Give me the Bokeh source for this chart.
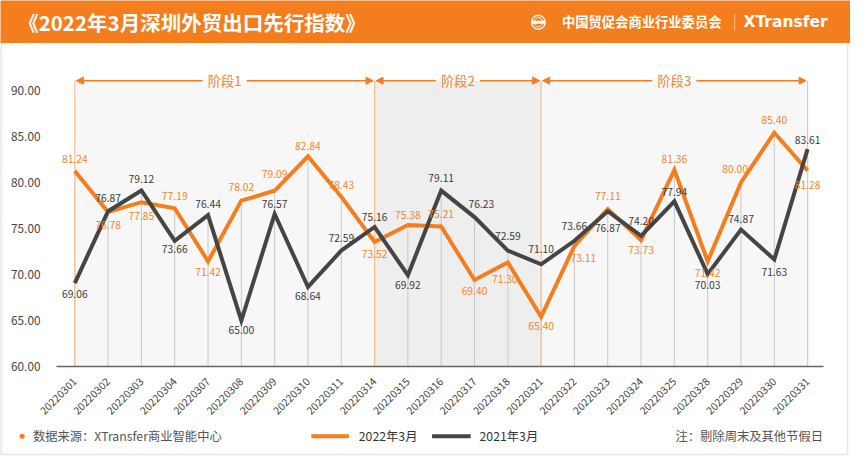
import math
from bokeh.plotting import figure
from bokeh.models import Range1d, FixedTicker, PrintfTickFormatter, Arrow, NormalHead
from bokeh.core.properties import value
from bokeh.embed import file_html
from bokeh.resources import INLINE

# ---------------- data ----------------
dates = ["20220301", "20220302", "20220303", "20220304", "20220307", "20220308",
         "20220309", "20220310", "20220311", "20220314", "20220315", "20220316",
         "20220317", "20220318", "20220321", "20220322", "20220323", "20220324",
         "20220325", "20220328", "20220329", "20220330", "20220331"]
index_2022 = [81.24, 76.78, 77.85, 77.19, 71.42, 78.02, 79.09, 82.84, 78.43, 73.52,
              75.38, 75.21, 69.40, 71.30, 65.40, 73.11, 77.11, 73.73, 81.36, 71.42,
              80.00, 85.40, 81.28]
index_2021 = [69.06, 76.87, 79.12, 73.66, 76.44, 65.00, 76.57, 68.64, 72.59, 75.16,
              69.92, 79.11, 76.23, 72.59, 71.10, 73.66, 76.87, 74.20, 77.94, 70.03,
              74.87, 71.63, 83.61]
series_names = ["2022年3月", "2021年3月"]
y_ticks = [60, 65, 70, 75, 80, 85, 90]
stage_names = ["阶段1", "阶段2", "阶段3"]
stage_edges = ["20220301", "20220314", "20220321", "20220331"]
title_text = "《2022年3月深圳外贸出口先行指数》"
org_text = "中国贸促会商业行业委员会"
brand_text = "XTransfer"
source_text = "数据来源：XTransfer商业智能中心"
note_text = "注：剔除周末及其他节假日"

# ---------------- styles / layout ----------------
ORANGE = "#F47D1E"
ORANGE_TXT = "#F0872C"
DARK = "#454545"
DARK_TXT = "#3C3C3C"
FONT = "Noto Sans CJK SC"
W, H = 850, 456
SX, SY = W / 866.0, H / 472.0          # design grid (866x472) -> canvas


def rx(v):
    return v * SX


def ry(v):
    return v * SY


FRAME_L, FRAME_R = round(rx(57)), round(rx(839))
FRAME_T, FRAME_B = round(ry(54)), round(ry(379))
X_FIRST, X_LAST = rx(75.7), rx(822.3)   # pixel centres of first / last category
Y90_PX = ry(93)
BRACKET_Y = 91.05
# label offsets (design pixels, + = down) for each point's value label
dy_2022 = [-12.5, 13.8, 14.5, -13, 11.3, -14.5, -17, -11, -12.7, 12, -10.5, -12.8,
           11.7, 17, 10, 13, -13, 10.5, -11.3, 12, -14, -12.7, 14.6]
dx_2022 = [0, 0, 0, 0, 0, 0, 0, 0, 0, 0, 0, 0, 0, -3, 0, 9, 0, 0, 0, 0, -6, 0, 0]
dy_2021 = [11, -13.7, -12, 9, -11.8, 9.5, -10, 9, -13, -10, 10, -13.5, -13.8, -15,
           -15.5, -15, 17, -15.5, -10, 11, -11, 13, -10]
dx_2021 = [0, 0, 0, 0, 0, 0, 0, 0, 0, 0, 0, 0, 7, 0, 0, 0, 0, 0, 0, 0, 0, 0, 0]

n = len(dates)
xs = list(range(n))
ppu = (X_LAST - X_FIRST) / (n - 1)
x_lo = -(X_FIRST - FRAME_L) / ppu
x_hi = (n - 1) + (FRAME_R - X_LAST) / ppu
y_top = 90 + (Y90_PX - FRAME_T) / ((FRAME_B - Y90_PX) / 30.0)

p = figure(width=W, height=H, x_range=Range1d(x_lo, x_hi), y_range=Range1d(y_ticks[0], y_top),
           toolbar_location=None, output_backend="svg",
           min_border_left=FRAME_L, min_border_right=W - FRAME_R,
           min_border_top=FRAME_T, min_border_bottom=H - FRAME_B,
           outline_line_color=None, background_fill_color="white", border_fill_color="white")
p.grid.visible = False
# page-pixel coordinate system for header / footer decorations
p.extra_x_ranges = {"cx": Range1d(FRAME_L, FRAME_R)}
p.extra_y_ranges = {"cy": Range1d(FRAME_B, FRAME_T)}
C = dict(x_range_name="cx", y_range_name="cy", level="overlay")

# ---------------- main chart ----------------
edge_idx = [dates.index(d) for d in stage_edges]
p.quad(left=edge_idx[:-1], right=edge_idx[1:], bottom=y_ticks[0], top=BRACKET_Y,
       fill_color=["#F7F7F7", "#EEEEEE", "#F7F7F7"], line_color=None)

tops = [max(a, b) for a, b in zip(index_2022, index_2021)]
p.segment(x0=xs, y0=[y_ticks[0]] * n, x1=xs, y1=tops, line_color="#C9C9C9", line_width=1)
p.segment(x0=edge_idx, y0=[y_ticks[0]] * len(edge_idx), x1=edge_idx, y1=[BRACKET_Y] * len(edge_idx),
          line_color="#F7C393", line_width=1.2)

p.line(xs, index_2022, line_color=ORANGE, line_width=4, line_join="miter")
p.line(xs, index_2021, line_color=DARK, line_width=4, line_join="miter")

p.text(x=xs, y=index_2022, text=[f"{v:.2f}" for v in index_2022],
       x_offset=[rx(d) for d in dx_2022], y_offset=[ry(d) for d in dy_2022],
       text_font=value(FONT), text_font_size="10.3px", text_color=ORANGE_TXT,
       text_align="center", text_baseline="middle")
p.text(x=xs, y=index_2021, text=[f"{v:.2f}" for v in index_2021],
       x_offset=[rx(d) for d in dx_2021], y_offset=[ry(d) for d in dy_2021],
       text_font=value(FONT), text_font_size="10.3px", text_color=DARK_TXT,
       text_align="center", text_baseline="middle")

gap = 0.66
eps = 0.045
mids = []
for i in range(len(stage_names)):
    a, b = edge_idx[i], edge_idx[i + 1]
    mid = (a + b) / 2
    mids.append(mid)
    p.add_layout(Arrow(x_start=mid - gap, y_start=BRACKET_Y, x_end=a + eps, y_end=BRACKET_Y,
                       line_color=ORANGE, line_width=1.5,
                       end=NormalHead(size=7, fill_color=ORANGE, line_color=ORANGE)))
    p.add_layout(Arrow(x_start=mid + gap, y_start=BRACKET_Y, x_end=b - eps, y_end=BRACKET_Y,
                       line_color=ORANGE, line_width=1.5,
                       end=NormalHead(size=7, fill_color=ORANGE, line_color=ORANGE)))
p.text(x=mids, y=[BRACKET_Y] * len(mids), text=stage_names, text_font=value(FONT),
       text_font_size="13.2px", text_color=ORANGE_TXT, text_align="center", text_baseline="middle")

p.yaxis.ticker = FixedTicker(ticks=y_ticks)
p.yaxis.formatter = PrintfTickFormatter(format="%.2f")
p.yaxis.axis_line_color = None
p.yaxis.major_tick_line_color = None
p.yaxis.minor_tick_line_color = None
p.yaxis.major_label_text_font = FONT
p.yaxis.major_label_text_font_size = "11.8px"
p.yaxis.major_label_text_color = "#444444"
p.yaxis.major_label_standoff = 10

p.xaxis.ticker = FixedTicker(ticks=xs)
p.xaxis.major_label_overrides = {i: d for i, d in enumerate(dates)}
p.xaxis.major_label_orientation = math.pi / 4
p.xaxis.axis_line_color = "#666666"
p.xaxis.axis_line_width = 1.6
p.xaxis.major_tick_line_color = None
p.xaxis.minor_tick_line_color = None
p.xaxis.major_label_text_font = FONT
p.xaxis.major_label_text_font_size = "10.5px"
p.xaxis.major_label_text_color = "#444444"
p.xaxis.major_label_standoff = 7

# ---------------- card border (page pixels) ----------------
bx_r, by_b = rx(863), ry(470)
p.multi_line(xs=[[0.75, 0.75], [bx_r, bx_r], [0, bx_r]],
             ys=[[ry(44), by_b], [ry(44), by_b], [by_b, by_b]],
             line_color="#E6E6E6", line_width=1.5, **C)

# ---------------- header (page pixels) ----------------
p.quad(left=[0], right=[W], top=[0], bottom=[ry(44)], fill_color=ORANGE, line_color=None, **C)
p.text(x=[rx(18)], y=[ry(22)], text=[title_text], text_font=value(FONT), text_font_size="20.5px",
       text_font_style="bold", text_color="white", text_baseline="middle", text_align="left", **C)
ring = [k * 2 * math.pi / 48 for k in range(49)]
lx, ly = rx(548), ry(22.5)
p.multi_line(xs=[[lx + 6.8 * math.cos(t) for t in ring], [lx + 4.5 * math.cos(t) for t in ring]],
             ys=[[ly + 6.8 * math.sin(t) for t in ring], [ly + 4.5 * math.sin(t) for t in ring]],
             line_color="white", line_width=[1.3, 0.9], **C)
p.rect(x=[lx], y=[ly], width=12.6, height=3.1, fill_color="white", line_color=None, **C)
p.text(x=[rx(572)], y=[ry(22)], text=[org_text], text_font=value(FONT), text_font_size="13.3px",
       text_font_style="bold", text_color="white", text_baseline="middle", text_align="left", **C)
p.segment(x0=[rx(748)], y0=[ry(14)], x1=[rx(748)], y1=[ry(31)], line_color="#F9B884",
          line_width=1, **C)
p.text(x=[rx(757)], y=[ry(22)], text=[brand_text], text_font=value("DejaVu Sans"),
       text_font_size="15.5px", text_font_style="bold", text_color="white",
       text_baseline="middle", text_align="left", **C)

# ---------------- footer (page pixels) ----------------
fy = ry(451)
p.segment(x0=[rx(22)], y0=[fy], x1=[rx(22) + 0.05], y1=[fy], line_color=ORANGE, line_width=5,
          line_cap="round", **C)
p.text(x=[rx(33)], y=[fy], text=[source_text], text_font=value(FONT), text_font_size="12.3px",
       text_color="#555555", text_baseline="middle", text_align="left", **C)
p.segment(x0=[rx(316.7), rx(439.7)], y0=[fy, fy], x1=[rx(355), rx(479)], y1=[fy, fy],
          line_color=[ORANGE, DARK], line_width=4, **C)
p.text(x=[rx(365), rx(488)], y=[fy, fy], text=series_names, text_font=value(FONT),
       text_font_size="12.3px", text_color="#333333", text_baseline="middle", text_align="left", **C)
p.text(x=[rx(838)], y=[fy], text=[note_text], text_font=value(FONT), text_font_size="12.3px",
       text_color="#555555", text_baseline="middle", text_align="right", **C)

open("out.html", "w").write(file_html(p, INLINE))
